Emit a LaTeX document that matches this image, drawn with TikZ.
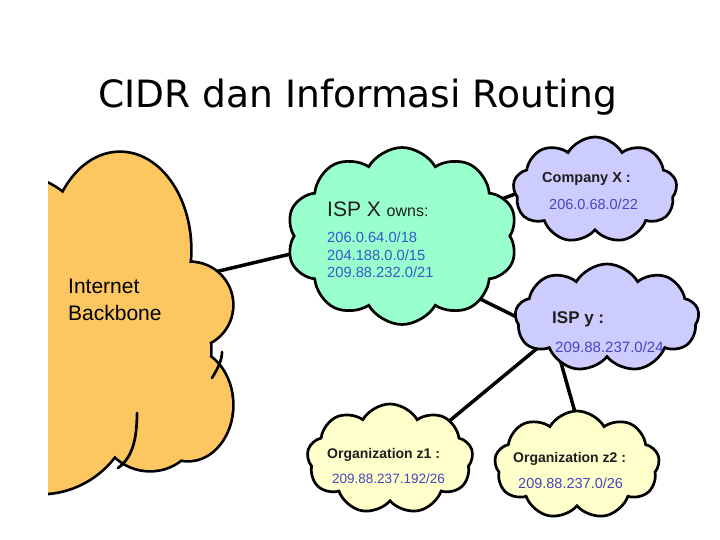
\documentclass[tikz,border=0pt]{standalone}
\usepackage{fontspec}
\setmainfont{Liberation Sans}
\newfontfamily\titlefont{DejaVu Sans}
\usetikzlibrary{shapes.symbols,backgrounds,calc}
\definecolor{bbfill}{RGB}{252,198,96}
\definecolor{ispxfill}{RGB}{153,255,204}
\definecolor{lavfill}{RGB}{204,204,255}
\definecolor{yelfill}{RGB}{255,255,204}
\definecolor{ipblue}{RGB}{50,90,200}
\definecolor{ipviolet}{RGB}{70,70,190}
\definecolor{darktext}{RGB}{30,30,30}
\begin{document}
\begin{tikzpicture}[x=1pt,y=-1pt,
  cloudbox/.style={cloud, draw=black, line width=2.7pt, cloud puffs=#1, cloud puff arc=120, inner sep=0pt},
  link/.style={line width=3.5pt, black},
  lbl/.style={anchor=base west, inner sep=0pt},
  fsz/.style={font=\fontsize{#1}{#1}\selectfont},
  fszb/.style={font=\fontsize{#1}{#1}\selectfont\bfseries}]
\useasboundingbox (0,0) rectangle (720,540);
% title
\node[lbl, font=\titlefont\fontsize{37.6}{40}\selectfont] (title) at (98,108) {CIDR dan Informasi Routing};
% backbone cloud: union of puffs, clipped at the picture edge
\coordinate (bb) at (103,323);
\begin{scope}
\clip (48,128) rectangle (692,520);
\def\bbpuffs{
  (120,250) ellipse [x radius=70, y radius=97]
  (190,305) circle [radius=42]
  (188,405) ellipse [x radius=44, y radius=55]
  (150,420) circle [radius=50]
  (40,400) circle [radius=93]
  (10,260) circle [radius=85]
  (125,350) circle [radius=85]}
\draw[line width=5.4pt, black] \bbpuffs;
\fill[bbfill] \bbpuffs;
\draw[line width=2.7pt, line cap=round] (137,413) .. controls (137,440) and (132,458) .. (118,468);
\draw[line width=2.7pt, line cap=round] (212,378) .. controls (218,368) and (222,360) .. (222,352);
\end{scope}
% clouds
\node[cloudbox=10, fill=ispxfill, minimum width=231, minimum height=177] (ispx) at (402,236) {};
\node[cloudbox=9, fill=lavfill, minimum width=164, minimum height=106] (cx) at (595,190) {};
\node[cloudbox=9, fill=lavfill, minimum width=184, minimum height=108, shape border rotate=20] (ispy) at (607,318) {};
\node[cloudbox=9, fill=yelfill, minimum width=166, minimum height=110] (z1) at (390,459) {};
\node[cloudbox=9, fill=yelfill, minimum width=165, minimum height=108] (z2) at (577,465) {};
% connectors
\begin{scope}[on background layer]
\draw[link] ([shift={(95,-47)}]bb) -- ([shift={(-82,11)}]ispx.center);
\draw[link] ([shift={(78,-29)}]ispx.center) -- ([shift={(-50,-7)}]cx.center);
\draw[link] ([shift={(68,58)}]ispx.center) -- ([shift={(-62,13)}]ispy.center);
\draw[link] ([shift={(-67,28)}]ispy.center) -- ([shift={(40,-22)}]z1.center);
\draw[link] ([shift={(-51,27)}]ispy.center) -- ([shift={(3,-35)}]z2.center);
\end{scope}
% texts
\node[lbl, fsz=21] (t1) at (68,293) {Internet};
\node[lbl, fsz=21] (t2) at (68,320) {Backbone};
\node[lbl, fsz=21, text=darktext] (t3) at (327,217) {ISP X {\fontsize{16}{16}\selectfont owns:}};
\node[lbl, fsz=14.7, text=ipblue] (t4) at (327,243) {206.0.64.0/18};
\node[lbl, fsz=14.7, text=ipblue] (t5) at (327,260) {204.188.0.0/15};
\node[lbl, fsz=14.7, text=ipblue] (t6) at (327,277) {209.88.232.0/21};
\node[lbl, fszb=14.5, text=darktext] (t7) at (542,183) {Company X :};
\node[lbl, fsz=14.5, text=ipviolet] (t8) at (549,210) {206.0.68.0/22};
\node[lbl, fszb=17, text=darktext] (t9) at (552,323) {ISP y :};
\node[lbl, fsz=15, text=ipviolet] (t10) at (555,352) {209.88.237.0/24};
\node[lbl, fszb=14, text=darktext] (t11) at (327,458) {Organization z1 :};
\node[lbl, fsz=13.5, text=ipviolet] (t12) at (332,483) {209.88.237.192/26};
\node[lbl, fszb=14, text=darktext] (t13) at (513,462) {Organization z2 :};
\node[lbl, fsz=14.5, text=ipviolet] (t14) at (518,488) {209.88.237.0/26};
\end{tikzpicture}
\end{document}
